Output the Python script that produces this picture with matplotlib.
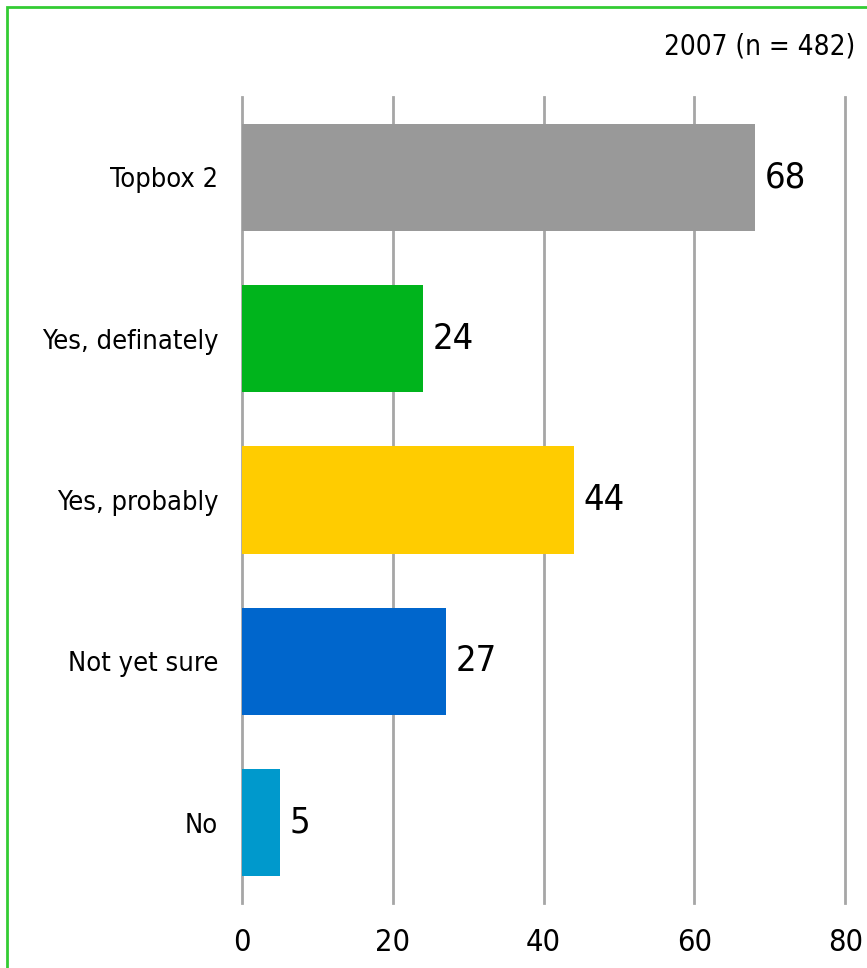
"""Horizontal bar chart: purchase intention 2007."""

import matplotlib.pyplot as plt
from matplotlib.patches import Rectangle

categories = ["Topbox 2", "Yes, definately", "Yes, probably", "Not yet sure", "No"]
values = [68, 24, 44, 27, 5]
colors = ["#999999", "#00B41C", "#FFCC00", "#0066CC", "#0099CC"]
xticks = [0, 20, 40, 60, 80]
title = "2007 (n = 482)"

plt.rcParams["font.family"] = ["DejaVu Sans"]
plt.rcParams["font.stretch"] = "condensed"

fig = plt.figure(figsize=(8.67, 9.68), dpi=100)
ax = fig.add_axes([0.279, 0.067, 0.696, 0.833])

ypos = list(range(len(categories)))
ax.barh(ypos, values, height=0.665, color=colors, zorder=3)

for y, v in zip(ypos, values):
    ax.text(v + 1.3, y, str(v), ha="left", va="center", fontsize=26, zorder=4)

ax.set_xlim(0, 80)
ax.set_ylim(len(categories) - 0.5, -0.5)
ax.set_xticks(xticks)
ax.set_yticks(ypos)
ax.set_yticklabels(categories, fontsize=19.5)
ax.tick_params(axis="x", labelsize=22, length=0, pad=18)
ax.tick_params(axis="y", length=0, pad=17)
ax.grid(axis="x", color="#A6A6A6", linewidth=2, zorder=1)
for gl in ax.get_xgridlines():
    gl.set_clip_on(False)
for s in ax.spines.values():
    s.set_visible(False)

fig.text(0.986, 0.952, title, ha="right", va="center", fontsize=20)

# green frame (right and bottom edges fall outside the image)
fig.patches.append(Rectangle((0.008, -0.05), 1.2, 1.043, transform=fig.transFigure,
                             fill=False, edgecolor="#33CC33", linewidth=2))

fig.savefig("out.png", dpi=100)
